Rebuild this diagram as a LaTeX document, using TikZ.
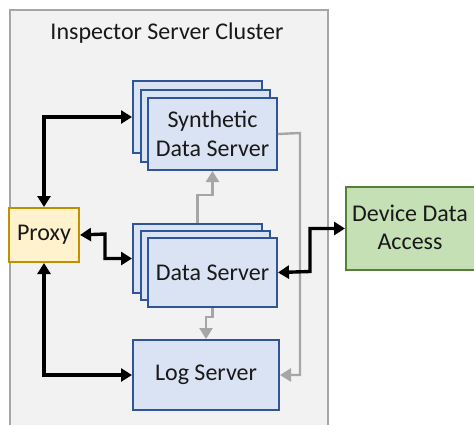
\documentclass[tikz,border=0pt]{standalone}
\usepackage{fontspec}
\setmainfont{Carlito}
\usetikzlibrary{arrows.meta}
\definecolor{clfill}{HTML}{F2F2F2}
\definecolor{clgray}{HTML}{A6A6A6}
\definecolor{bluefill}{HTML}{DAE3F3}
\definecolor{blueline}{HTML}{2F5597}
\definecolor{proxyfill}{HTML}{FFF2CC}
\definecolor{proxyline}{HTML}{BF9000}
\definecolor{devfill}{HTML}{C5E0B4}
\definecolor{devline}{HTML}{548235}
\tikzset{
  srvbox/.style={draw=blueline, fill=bluefill, line width=2pt, minimum width=129pt, anchor=north west, inner sep=0pt},
  lbl/.style={font=\fontsize{24}{28.5}\selectfont, align=center, text=black!90},
  blk/.style={line width=3.4pt, {Triangle[length=11pt,width=13pt]}-{Triangle[length=11pt,width=13pt]}},
  gry/.style={draw=clgray, line width=2.4pt, -{Triangle[length=11pt,width=13pt]}},
}
\begin{document}
\begin{tikzpicture}[x=1pt,y=-1pt]
\useasboundingbox (0,0) rectangle (474,424);
\begin{scope}
\clip (0,0) rectangle (474,424);
% cluster
\node[draw=clgray, fill=clfill, line width=2pt, minimum width=318pt, minimum height=440pt, anchor=north west, inner sep=0pt] (cluster) at (9,9) {};
\node[lbl, anchor=center] (title) at (167,33) {Inspector Server Cluster};
% synthetic stack
\node[srvbox, minimum height=72pt] (syn3) at (132,80) {};
\node[srvbox, minimum height=72pt] (syn2) at (139.5,88.5) {};
\node[srvbox, minimum height=72pt] (syn) at (147,97) {};
\node[lbl] (syntxt) at (syn.center) {Synthetic\\Data Server};
% data server stack
\node[srvbox, minimum height=69pt] (ds3) at (132,223) {};
\node[srvbox, minimum height=69pt] (ds2) at (139.5,230) {};
\node[srvbox, minimum height=69pt] (ds) at (147,237) {};
\node[lbl] (dstxt) at (ds.center) {Data Server};
% log server
\node[srvbox, minimum width=146pt, minimum height=70pt] (log) at (132,339) {};
\node[lbl] (logtxt) at (log.center) {Log Server};
% proxy
\node[draw=proxyline, fill=proxyfill, line width=2pt, minimum width=70pt, minimum height=54pt, anchor=north west, inner sep=0pt] (proxy) at (8,207) {};
\node[lbl] (proxytxt) at (proxy.center) {Proxy};
% device
\node[draw=devline, fill=devfill, line width=2pt, minimum width=132pt, minimum height=83pt, anchor=north west, inner sep=0pt] (dev) at (345,186) {};
\node[lbl] (devtxt) at (410,227.5) {Device Data\\Access};
% gray connectors
\draw[gry] (ds3.north) -- ++(0,-28) -| (syn.south);
\draw[gry] (ds.south) -- ++(0,9) -| (log.north);
\draw[gry] (syn.east) -- (300,133) |- (log.east);
% black connectors
\draw[blk] (proxy.north) |- (syn3.west);
\draw[blk] (proxy.east) -- (105,234) |- (ds3.west);
\draw[blk] (proxy.south) |- (log.west);
\draw[blk] (ds.east) -- (310,271.5) |- (dev.west);
\end{scope}
\end{tikzpicture}
\end{document}
